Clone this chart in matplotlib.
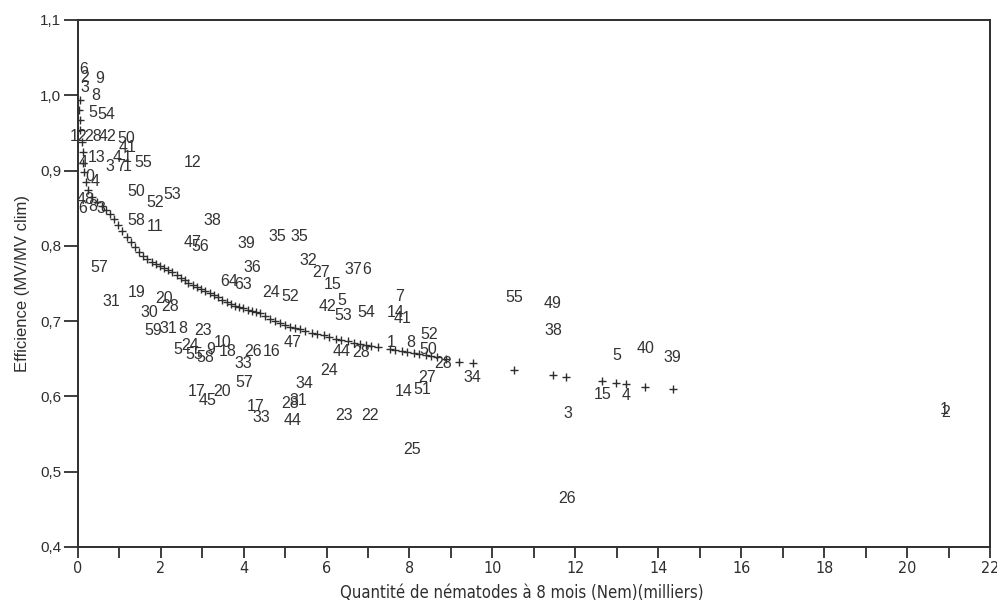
import matplotlib
matplotlib.use("Agg")
import matplotlib.pyplot as plt

# Fitted curve ("+" markers)
curve_x = [0.05, 0.02, 0.05, 0.05, 0.10, 0.12, 0.12, 0.14, 0.19, 0.24, 0.34, 0.46, 0.58, 0.67,
           0.77, 0.87, 0.96, 1.06, 1.18, 1.28, 1.37, 1.47, 1.57, 1.66, 1.78, 1.88, 1.98, 2.07,
           2.17, 2.27, 2.39, 2.48, 2.58, 2.67, 2.77, 2.87, 2.96, 3.06, 3.18, 3.28, 3.37, 3.49,
           3.59, 3.69, 3.78, 3.88, 3.98, 4.10, 4.19, 4.29, 4.39, 4.51, 4.63, 4.75, 4.87, 4.99,
           5.11, 5.23, 5.35, 5.49, 5.64, 5.78, 5.93, 6.07, 6.22, 6.36, 6.51, 6.65, 6.80, 6.94,
           7.08, 7.23, 7.52, 7.66, 7.81, 7.95, 8.10, 8.24, 8.39, 8.53, 8.67, 8.89, 9.20, 9.52,
           10.53, 11.45, 11.78, 12.65, 12.99, 13.23, 13.69, 14.36]
curve_y = [0.994, 0.980, 0.967, 0.954, 0.938, 0.925, 0.910, 0.898, 0.885, 0.874, 0.865, 0.858,
           0.853, 0.848, 0.842, 0.836, 0.828, 0.820, 0.812, 0.805, 0.799, 0.792, 0.787, 0.783,
           0.779, 0.776, 0.773, 0.771, 0.768, 0.765, 0.761, 0.757, 0.755, 0.751, 0.748, 0.745,
           0.743, 0.740, 0.737, 0.735, 0.732, 0.728, 0.726, 0.723, 0.720, 0.719, 0.718, 0.715,
           0.714, 0.712, 0.711, 0.707, 0.703, 0.700, 0.698, 0.695, 0.692, 0.691, 0.690, 0.687,
           0.684, 0.683, 0.682, 0.679, 0.676, 0.675, 0.674, 0.671, 0.670, 0.668, 0.667, 0.666,
           0.663, 0.662, 0.660, 0.659, 0.658, 0.656, 0.655, 0.654, 0.652, 0.650, 0.646, 0.644,
           0.635, 0.629, 0.626, 0.621, 0.618, 0.617, 0.613, 0.610]

# Observations, plotted as their identifying numbers
obs_label = ["6", "2", "9", "3", "8", "5", "54", "12", "28", "42", "50", "41", "4", "13", "3",
             "4", "7", "1", "1", "55", "12", "0", "4", "48", "6", "8", "3", "50", "52", "53",
             "58", "11", "38", "47", "56", "39", "35", "35", "57", "36", "64", "63", "31", "19",
             "20", "30", "28", "59", "31", "8", "23", "5", "24", "55", "58", "9", "10", "18",
             "26", "16", "47", "33", "57", "17", "20", "45", "17", "33", "28", "31", "44", "34",
             "24", "24", "52", "32", "27", "15", "37", "6", "42", "5", "53", "54", "7", "14",
             "41", "44", "28", "1", "8", "52", "50", "28", "34", "27", "14", "51", "23", "22",
             "25", "55", "49", "38", "3", "26", "5", "40", "39", "15", "4", "2", "1"]
obs_x = [0.14, 0.17, 0.53, 0.17, 0.43, 0.36, 0.70, 0.02, 0.36, 0.72, 1.16, 1.20, 0.12, 0.46, 0.77,
         0.96, 1.04, 1.18, 1.20, 1.57, 2.77, 0.29, 0.43, 0.19, 0.12, 0.36, 0.55, 1.42, 1.86, 2.29,
         1.42, 1.86, 3.25, 2.77, 2.96, 4.07, 4.82, 5.35, 0.51, 4.22, 3.64, 3.98, 0.80, 1.42,
         2.07, 1.73, 2.22, 1.81, 2.19, 2.53, 3.01, 2.41, 2.72, 2.82, 3.08, 3.20, 3.49, 3.61,
         4.22, 4.67, 5.18, 4.00, 4.02, 2.87, 3.47, 3.13, 4.29, 4.43, 5.11, 5.33, 5.18, 5.47,
         6.07, 4.67, 5.13, 5.57, 5.86, 6.14, 6.65, 6.96, 6.02, 6.36, 6.41, 6.96, 7.76, 7.66,
         7.83, 6.36, 6.84, 7.57, 8.02, 8.48, 8.46, 8.80, 9.52, 8.43, 7.86, 8.31, 6.43, 7.04,
         8.07, 10.53, 11.45, 11.47, 11.81, 11.81, 12.99, 13.69, 14.34, 12.65, 13.23, 20.94, 20.89]
obs_y = [1.034, 1.023, 1.022, 1.010, 1.000, 0.977, 0.974, 0.945, 0.945, 0.945, 0.942, 0.930, 0.911,
         0.917, 0.905, 0.917, 0.905, 0.917, 0.905, 0.911, 0.910, 0.892, 0.886, 0.861, 0.850,
         0.852, 0.850, 0.872, 0.858, 0.868, 0.834, 0.825, 0.834, 0.804, 0.799, 0.803, 0.813,
         0.812, 0.771, 0.771, 0.752, 0.749, 0.7255, 0.7375, 0.7295, 0.712, 0.719, 0.687, 0.690,
         0.690, 0.688, 0.662, 0.667, 0.655, 0.652, 0.662, 0.671, 0.659, 0.659, 0.659, 0.671,
         0.643, 0.619, 0.606, 0.606, 0.595, 0.586, 0.5715, 0.591, 0.595, 0.5675, 0.617, 0.635,
         0.7375, 0.732, 0.781, 0.765, 0.748, 0.768, 0.768, 0.719, 0.727, 0.708, 0.712, 0.732,
         0.711, 0.704, 0.659, 0.658, 0.672, 0.672, 0.682, 0.662, 0.643, 0.625, 0.625, 0.607,
         0.609, 0.574, 0.574, 0.529, 0.731, 0.724, 0.688, 0.577, 0.464, 0.654, 0.664, 0.652,
         0.603, 0.601, 0.578, 0.582]

y_ticks = [0.4, 0.5, 0.6, 0.7, 0.8, 0.9, 1.0, 1.1]
y_tick_labels = ["0,4", "0,5", "0,6", "0,7", "0,8", "0,9", "1,0", "1,1"]
x_ticks = [0, 2, 4, 6, 8, 10, 12, 14, 16, 18, 20, 22]
x_tick_labels = [str(v) for v in x_ticks]
x_minor = [1, 3, 5, 7, 9, 11, 13, 15, 17, 19, 21]

ink = "#2e2e2e"
sans = ["Liberation Sans", "DejaVu Sans"]
fig = plt.figure(figsize=(9.97, 6.05), dpi=100)
ax = fig.add_axes([0.078, 0.096, 0.915, 0.871])
ax.set_xlim(0, 22)
ax.set_ylim(0.4, 1.1)

ax.scatter(curve_x, curve_y, marker="+", s=36, linewidths=1.0, color=ink, zorder=3)
for t, xv, yv in zip(obs_label, obs_x, obs_y):
    ax.text(xv, yv, t, ha="center", va="center", fontsize=11.5, color="#333333",
            family=sans, zorder=4)

for s in ax.spines.values():
    s.set_color(ink)
    s.set_linewidth(1.4)

ax.set_yticks(y_ticks)
ax.set_yticklabels(y_tick_labels, fontsize=11, color=ink, family=sans)
ax.set_xticks(x_ticks)
ax.set_xticklabels(x_tick_labels, fontsize=11.5, color=ink, family="DejaVu Sans",
                   fontstretch="condensed")
ax.set_xticks(x_minor, minor=True)
ax.tick_params(axis="y", direction="out", length=10, width=1.3, color=ink, pad=2)
ax.tick_params(axis="x", which="both", direction="out", length=8, width=1.3, color=ink, pad=2)

ax.set_ylabel("Efficience (MV/MV clim)", fontsize=12, color=ink, family=sans, labelpad=7)
ax.set_xlabel("Quantité de nématodes à 8 mois (Nem)(milliers)", fontsize=12, color=ink,
              family="DejaVu Sans", fontstretch="condensed", labelpad=4)
ax.xaxis.set_label_coords(0.487, -0.07)

fig.savefig("out.png", dpi=100)
